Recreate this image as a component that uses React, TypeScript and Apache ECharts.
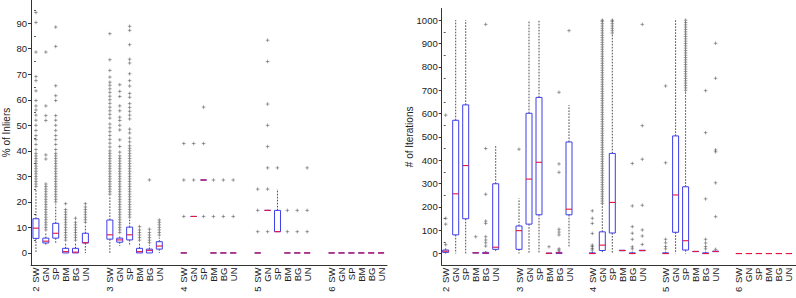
import React, { useEffect, useRef } from 'react';
import * as echarts from 'echarts';

// ---------- data ----------
const groups = ['2', '3', '4', '5', '6'];
const methods = ['SW', 'GN', 'SP', 'BM', 'BG', 'UN'];
const inlierTicks = [0, 10, 20, 30, 40, 50, 60, 70, 80, 90];
const inlierMinorTicks = [5, 15, 25, 35, 45, 55, 65, 75, 85, 95];
const iterTicks = [0, 100, 200, 300, 400, 500, 600, 700, 800, 900, 1000];
const iterMinorTicks = [50, 150, 250, 350, 450, 550, 650, 750, 850, 950];

// [lower whisker, q1, median, q3, upper whisker] per group x method
const inlierBoxes = [
  [0, 5.7, 9.7, 13.4, 25], [3, 3.9, 4.6, 5.8, 8], [3.9, 5.8, 7.7, 11.6, 19], [0, 0, 0.5, 1.8, 4], [0, 0, 0.3, 1.8, 4], [0, 3.9, 4.0, 7.7, 11],
  [0, 5.4, 7.1, 12.9, 22], [2.7, 4.2, 5.1, 5.8, 7], [2.7, 5.1, 7.1, 10.1, 13], [0, 0, 0.5, 1.8, 4], [0, 0, 1.0, 1.5, 3], [0, 1.5, 2.7, 4.4, 6],
  [0, 0, 0, 0, 0], [14.29, 14.29, 14.29, 14.29, 14.29], [28.57, 28.57, 28.57, 28.57, 28.57], [0, 0, 0, 0, 0], [0, 0, 0, 0, 0], [0, 0, 0, 0, 0],
  [0, 0, 0, 0, 0], [16.67, 16.67, 16.67, 16.67, 16.67], [8.33, 8.33, 8.33, 16.67, 25], [0, 0, 0, 0, 0], [0, 0, 0, 0, 0], [0, 0, 0, 0, 0],
  [0, 0, 0, 0, 0], [0, 0, 0, 0, 0], [0, 0, 0, 0, 0], [0, 0, 0, 0, 0], [0, 0, 0, 0, 0], [0, 0, 0, 0, 0],
];

const inlierOutliers = [
  [26, 27, 28, 29, 30, 31, 32, 33, 34, 35, 36, 37, 38, 39, 40.5, 42.5, 44.4, 46, 48, 50, 52, 54, 56, 57.6, 59.7, 63.5, 67.5, 69.1, 78.7, 90.3, 94.2],
  [9, 10, 11, 12, 13, 14, 15, 16, 17, 18, 19, 20, 21, 22, 23, 24, 25, 26, 27, 36.8, 38.4, 51.9, 53.8, 57.6, 78.7],
  [20, 21, 22, 23, 24, 25, 26, 27, 28, 29, 30, 31, 32, 33, 34, 35, 36, 37, 38, 39, 40.5, 42.5, 44.4, 46, 48, 50, 52, 53.8, 59.7, 61.6, 65.5, 80.9, 88.5],
  [5, 6, 7, 8, 9, 10, 11, 12, 13, 14, 15, 16, 17, 19.3],
  [5, 6, 7, 8, 9, 10, 11, 12, 13.6],
  [12, 13, 14, 15, 16, 17, 18, 19.3],
  [23, 24, 25, 26, 27, 28, 29, 30, 31, 32, 33, 34, 35, 36, 37, 38, 39, 40, 41.5, 43, 44.5, 46, 47.5, 49, 50.5, 52.8, 54.3, 55.7, 57.1, 58.6, 60, 61.4, 62.9, 64.3, 65.7, 66.9, 68.9, 71.5, 75.7, 85.9],
  [8, 9, 10, 11, 12, 13, 14, 15, 16, 17, 18, 19, 20, 21, 22, 23, 24, 25, 26, 27, 28, 29, 30, 31, 32, 33, 34, 35, 36, 37, 38, 39.5, 41.7, 44.3, 48.2, 50, 51.9, 53.2, 55.7, 57.6, 61.3, 63.3, 65.9],
  [14, 15, 16, 17, 18, 19, 20, 21, 22, 23, 24, 25, 26, 27, 28, 29, 30, 31, 32, 33, 34, 35, 36, 37, 38, 39, 40, 41, 42, 43.5, 45, 47, 48.5, 52.5, 54, 55.5, 57, 58.5, 61, 62.5, 65.4, 67.5, 70.2, 74.4, 75.9, 81.6, 87.2, 88.8],
  [5, 6, 7, 8, 9, 10.3],
  [4, 5, 6, 7, 8, 9.3, 28.6],
  [7, 8, 9, 10, 11, 12, 12.9],
  [14.29, 28.57, 42.86], [28.57, 42.86], [14.29, 42.86, 57.14], [14.29, 28.57], [14.29, 28.57], [14.29, 28.57],
  [8.33, 16.67, 25], [8.33, 25, 33.33, 41.67, 50, 58.33, 75, 83.33], [33.33], [8.33, 16.67], [8.33, 16.67], [8.33, 16.67, 33.33],
  [], [], [], [], [], [],
];

const iterBoxes = [
  [0, 5, 10, 15, 25], [0, 80, 256, 571, 1000], [0, 149, 377, 637, 1000], [0, 2, 3, 4, 6], [0, 0, 2, 5, 10], [5, 18, 27, 299, 461],
  [0, 18, 98, 118, 236], [0, 126, 319, 601, 1000], [0, 166, 391, 669, 1000], [0, 0, 1, 2, 4], [0, 0, 3, 5, 10], [25, 166, 190, 478, 636],
  [0, 0, 0, 3, 8], [0, 13, 36, 93, 211], [0, 88, 219, 429, 942], [12, 12, 13, 14, 14], [0, 0, 0, 3, 8], [12, 12, 13, 14, 14],
  [0, 0, 0, 3, 8], [0, 91, 251, 504, 1000], [0, 15, 55, 286, 692], [8, 8, 9, 9, 10], [0, 0, 0, 3, 8], [6, 8, 9, 10, 12],
  [0, 0, 0, 0, 0], [0, 0, 0, 0, 0], [0, 0, 0, 0, 0], [0, 0, 0, 0, 0], [0, 0, 0, 0, 0], [0, 0, 0, 0, 0],
];

const iterOutliers = [
  [38, 126, 151, 593], [], [], [72], [32, 46, 58, 72, 129, 139, 254, 450, 982], [],
  [447], [], [], [29], [14, 20, 80, 92, 104, 348, 384, 691], [955],
  [15, 22, 30, 36, 86, 129, 151, 183],
  [215, 225, 235, 245, 255, 265, 275, 285, 295, 305, 315, 325, 335, 345, 355, 365, 375, 385, 395, 405, 415, 425, 435, 445, 455, 465, 475, 485, 495, 505, 515, 525, 535, 545, 555, 565, 575, 585, 595, 605, 615, 625, 635, 645, 655, 665, 675, 685, 695, 705, 715, 725, 735, 745, 755, 765, 775, 785, 795, 805, 815, 825, 835, 845, 855, 865, 875, 885, 895, 905, 915, 925, 935, 945, 955, 965, 975, 985, 995, 1000],
  [945, 955, 965, 975, 985, 995, 1000],
  [],
  [20, 29, 61, 87, 115, 204, 386],
  [39, 75, 101, 207, 404, 548, 982],
  [20, 30, 46, 61, 389, 718],
  [],
  [700, 710, 720, 730, 740, 750, 760, 770, 780, 790, 800, 810, 820, 830, 840, 850, 860, 870, 880, 890, 900, 910, 920, 930, 940, 950, 960, 970, 980, 990, 1000],
  [],
  [20, 30, 45, 61, 234, 518, 698],
  [18, 158, 303, 436, 444, 751, 901],
  [], [], [], [], [], [],
];

// ---------- layout helpers ----------
const FONT = 'Liberation Sans, Arial, sans-serif';
const LEFT_STEP = 7.475;
const RIGHT_STEP = 7.33;

function slotPositions(step: number) {
  const p: number[] = [];
  groups.forEach((_, g) => methods.forEach((__, i) => p.push(g * step + i)));
  return p;
}

function renderBox(params: any, api: any) {
  const x = api.value(0);
  const lo = api.coord([x, api.value(1)]);
  const q1 = api.coord([x, api.value(2)]);
  const md = api.coord([x, api.value(3)]);
  const q3 = api.coord([x, api.value(4)]);
  const hi = api.coord([x, api.value(5)]);
  const cx = lo[0];
  const hw = 3;
  const dash = { stroke: '#1a1a1a', lineWidth: 0.8, lineDash: [1.6, 1.4], fill: 'none' };
  const children: any[] = [];
  if (q3[1] - hi[1] > 0.5) {
    children.push({ type: 'line', shape: { x1: cx, y1: q3[1], x2: cx, y2: hi[1] }, style: dash });
  }
  if (lo[1] - q1[1] > 0.5) {
    children.push({ type: 'line', shape: { x1: cx, y1: q1[1], x2: cx, y2: lo[1] }, style: dash });
  }
  children.push({
    type: 'rect',
    shape: { x: cx - hw, y: q3[1], width: hw * 2, height: Math.max(q1[1] - q3[1], 0) },
    style: { fill: 'none', stroke: '#3d3dea', lineWidth: 1 },
  });
  children.push({
    type: 'line',
    shape: { x1: cx - hw, y1: md[1], x2: cx + hw, y2: md[1] },
    style: { stroke: '#e8143c', lineWidth: 1.1 },
  });
  return { type: 'group', children };
}

function buildPanel(boxes: number[][], outliers: number[][], step: number) {
  const pos = slotPositions(step);
  const boxData = boxes.map((b, k) => [pos[k], ...b]);
  const pts: number[][] = [];
  outliers.forEach((list, k) => list.forEach((v) => pts.push([pos[k], v])));
  return { pos, boxData, pts };
}

const axisText = { fontFamily: FONT, color: '#222' };

function xAxis(gridIndex: number, min: number, max: number) {
  return {
    type: 'value', gridIndex, min, max, position: 'bottom',
    axisLine: { show: true, onZero: false, lineStyle: { color: '#333', width: 1 } },
    axisTick: { show: false }, splitLine: { show: false },
    axisLabel: { show: false },
  };
}

function yAxes(gridIndex: number, min: number, max: number, ticks: number[], minor: number[], name: string, nameGap: number) {
  return [
    {
      type: 'value', gridIndex, min, max, position: 'left',
      name, nameLocation: 'middle', nameGap, nameMoveOverlap: false,
      nameTextStyle: { fontFamily: FONT, fontSize: 10, color: '#222' },
      axisLine: { show: true, onZero: false, lineStyle: { color: '#333', width: 1 } },
      axisTick: { show: true, length: 3, customValues: ticks, lineStyle: { color: '#333' } },
      axisLabel: { ...axisText, fontSize: 9.5, margin: 4, customValues: ticks, formatter: (v: number) => String(v) },
      splitLine: { show: false },
    },
    {
      type: 'value', gridIndex, min, max, position: 'left',
      axisLine: { show: false },
      axisTick: { show: true, length: 2, customValues: minor, lineStyle: { color: '#555' } },
      axisLabel: { show: false },
      splitLine: { show: false },
    },
  ];
}

const plusSymbol = 'path://M5 0L5 10M0 5L10 5';

export default function App() {
  const ref = useRef<HTMLDivElement>(null);
  useEffect(() => {
    if (!ref.current) return;
    const chart = echarts.init(ref.current, undefined, { renderer: 'svg' });
    const L = buildPanel(inlierBoxes, inlierOutliers, LEFT_STEP);
    const R = buildPanel(iterBoxes, iterOutliers, RIGHT_STEP);
    const scatterStyle = {
      type: 'scatter', symbol: plusSymbol, symbolSize: 3.6, silent: true,
      itemStyle: { color: 'none', borderColor: '#555', borderWidth: 0.7 },
    };
    chart.setOption({
      animation: false,
      backgroundColor: '#fff',
      grid: [
        { left: 27, top: 0, width: 360, height: 265 },
        { left: 441.7, top: 8.5, width: 354, height: 256.7 },
      ],
      xAxis: [xAxis(0, -0.5, 35.5), xAxis(1, -0.4, 35.0)],
      yAxis: [
        ...yAxes(0, -4.73, 99.1, inlierTicks, inlierMinorTicks, '% of Inliers', 20),
        ...yAxes(1, -50, 1050, iterTicks, iterMinorTicks, '# of Iterations', 27),
      ],
      series: [
        { ...scatterStyle, xAxisIndex: 0, yAxisIndex: 0, data: L.pts, z: 2 },
        { type: 'custom', xAxisIndex: 0, yAxisIndex: 0, data: L.boxData, renderItem: renderBox, encode: { x: 0, y: [1, 2, 3, 4, 5] }, z: 3, silent: true },
        { ...scatterStyle, xAxisIndex: 1, yAxisIndex: 2, data: R.pts, z: 2 },
        { type: 'custom', xAxisIndex: 1, yAxisIndex: 2, data: R.boxData, renderItem: renderBox, encode: { x: 0, y: [1, 2, 3, 4, 5] }, z: 3, silent: true },
      ],
    });

    // rotated category labels (method, and group number under each group's first column),
    // placed through the axes' own scales
    const labelTexts: any[] = [];
    const panels = [
      { pos: L.pos, xAxisIndex: 0, yAxisIndex: 0, yMin: -4.73 },
      { pos: R.pos, xAxisIndex: 1, yAxisIndex: 2, yMin: -50 },
    ];
    const textStyle = { fontFamily: FONT, fontSize: 9.5, fill: '#222', align: 'right', verticalAlign: 'middle' };
    panels.forEach((p) => {
      p.pos.forEach((xv, k) => {
        const px = chart.convertToPixel({ xAxisIndex: p.xAxisIndex, yAxisIndex: p.yAxisIndex } as any, [xv, p.yMin]) as number[];
        const mi = k % methods.length;
        labelTexts.push({
          type: 'text', x: px[0], y: px[1] + 2.5, rotation: Math.PI / 2, silent: true,
          style: { ...textStyle, text: methods[mi] },
        });
        if (mi === 0) {
          labelTexts.push({
            type: 'text', x: px[0], y: px[1] + 21.5, rotation: Math.PI / 2, silent: true,
            style: { ...textStyle, text: groups[Math.floor(k / methods.length)] },
          });
        }
      });
    });
    chart.setOption({ graphic: labelTexts });
    return () => chart.dispose();
  }, []);
  return (
    <div
      ref={ref}
      style={{ position: 'absolute', left: 0, top: 0, width: 796, height: 298, background: '#fff' }}
    />
  );
}
